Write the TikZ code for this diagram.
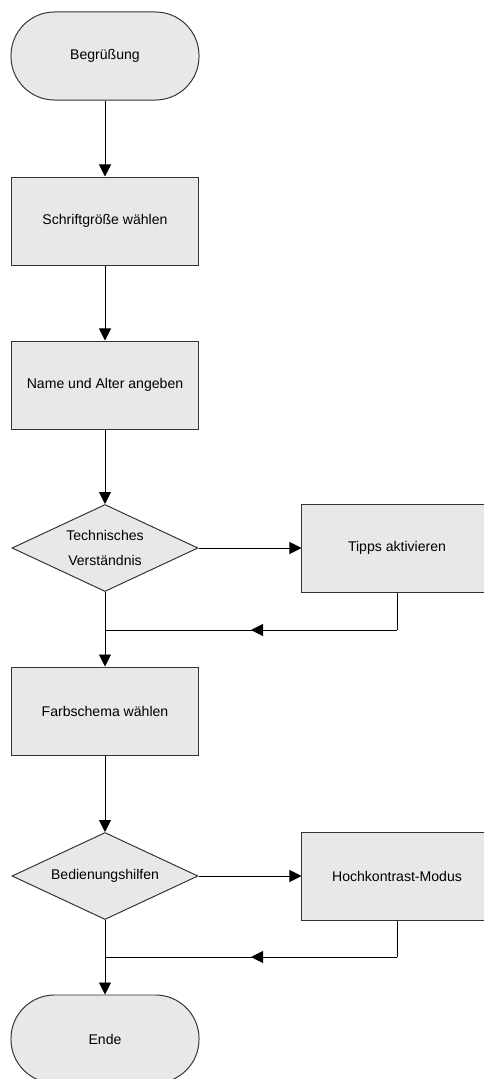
\documentclass[tikz,border=0pt]{standalone}
\usepackage{fontspec}
\setmainfont{Liberation Sans}
\usetikzlibrary{arrows.meta,shapes.geometric,decorations.markings}

\tikzset{
  ende/.style={rectangle, rounded corners=1.09cm, draw=black!80, fill=black!9, minimum width=4.7cm, minimum height=2.2cm},
  kasten/.style={rectangle, draw=black!80, fill=black!9, minimum width=4.65cm, minimum height=2.2cm},
  raute/.style={diamond, aspect=2.15, draw=black!80, fill=black!9, minimum width=4.65cm, minimum height=2.175cm, inner sep=0pt, align=center, font=\fontsize{10}{18}\selectfont},
  pfeil/.style={-{Triangle[length=3mm,width=3mm]}},
  mittelpfeil/.style={postaction={decorate}, decoration={markings, mark=at position 0.5 with {\arrow{Triangle[length=3mm,width=3mm]}}}}
}

\begin{document}
\begin{tikzpicture}[x=0.025cm, y=-0.025cm, line width=0.7pt, font=\fontsize{10}{12}\selectfont]
\useasboundingbox (0,0) rectangle (484,1079);

%ノード
\node[ende] (start) at (105,56) {Begrüßung}; %開始
\node[kasten] (schrift) at (105,221) {Schriftgröße wählen};
\node[kasten] (name) at (105,385) {Name und Alter angeben};
\node[raute] (technik) at (105,548) {Technisches\\Verständnis}; %分岐1
\node[kasten, minimum width=4.75cm] (tipps) at (397,548) {Tipps aktivieren};
\coordinate (j1) at (105,630);
\node[kasten] (farbe) at (105,711) {Farbschema wählen};
\node[raute] (hilfe) at (105,876) {Bedienungshilfen}; %分岐2
\node[kasten, minimum width=4.75cm] (kontrast) at (397,876) {Hochkontrast-Modus};
\coordinate (j2) at (105,957);
\node[ende] (schluss) at (105,1039) {Ende}; %終了

%矢印
\draw[pfeil] (start) -- (schrift);
\draw[pfeil] (schrift) -- (name);
\draw[pfeil] (name) -- (technik);
\draw[pfeil] (technik) -- (tipps);
\draw (tipps.south) -- (tipps.south |- j1);
\draw[mittelpfeil] (tipps.south |- j1) -- (j1); %戻り1
\draw[pfeil] (technik) -- (farbe);
\draw[pfeil] (farbe) -- (hilfe);
\draw[pfeil] (hilfe) -- (kontrast);
\draw (kontrast.south) -- (kontrast.south |- j2);
\draw[mittelpfeil] (kontrast.south |- j2) -- (j2); %戻り2
\draw[pfeil] (hilfe) -- (schluss);
\end{tikzpicture}
\end{document}
